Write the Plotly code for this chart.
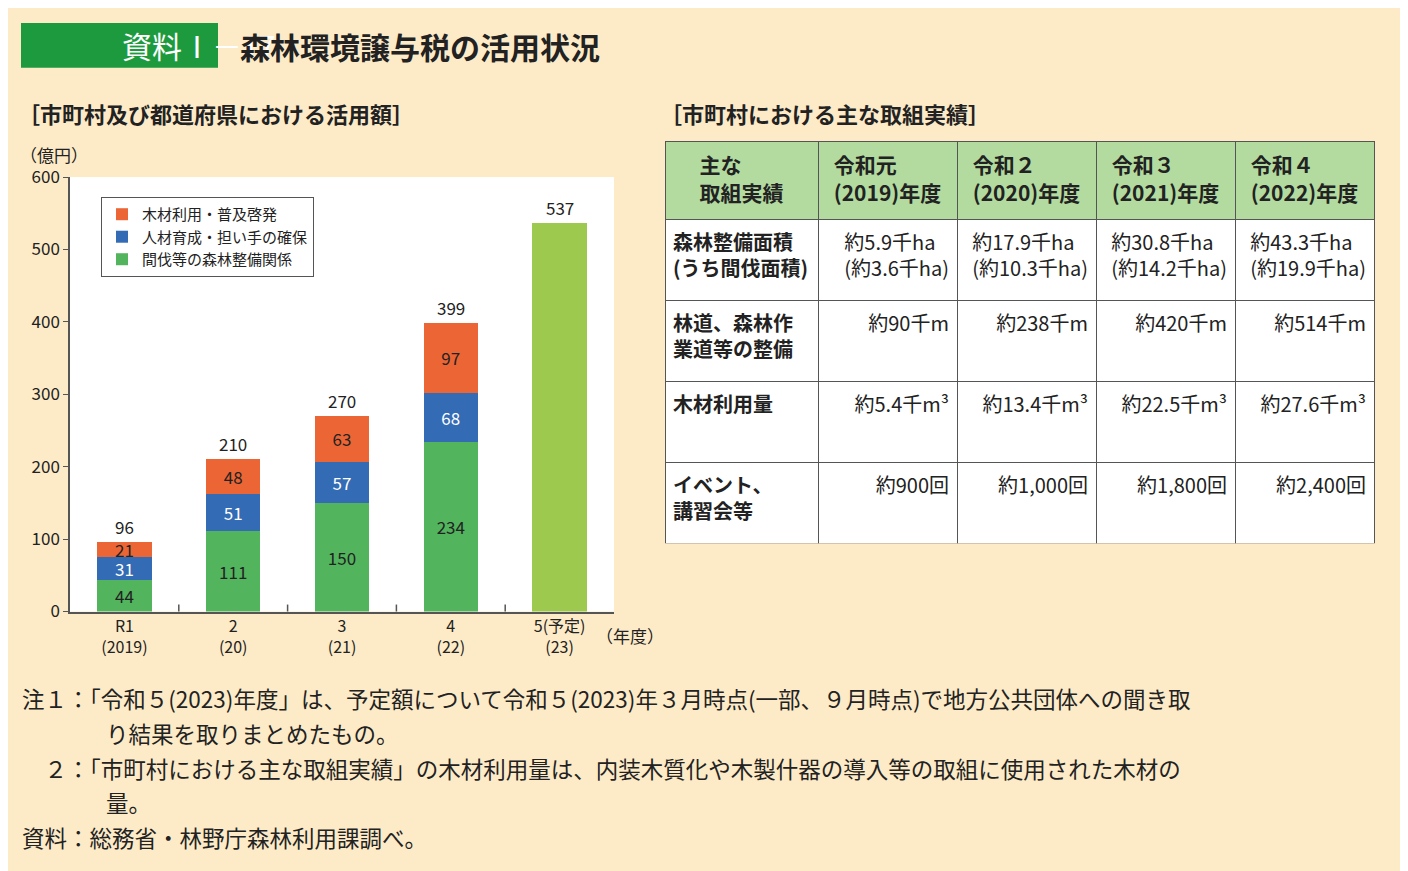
import plotly.graph_objects as go

# chart data (億円)
years = ["R1<br>(2019)", "2<br>(20)", "3<br>(21)", "4<br>(22)", "5(予定)<br>(23)"]
seibi = [44, 111, 150, 234]
jinzai = [31, 51, 57, 68]
mokuzai = [21, 48, 63, 97]
totals = [96, 210, 270, 399, 537]
plan_2023 = 537

# table data
tbl_header = ["主な<br>取組実績", "令和元<br>(2019)年度", "令和２<br>(2020)年度", "令和３<br>(2021)年度", "令和４<br>(2022)年度"]
tbl_rows = ["森林整備面積<br>(うち間伐面積)", "林道、森林作<br>業道等の整備", "<br>木材利用量", "イベント、<br>講習会等"]
tbl_2019 = ["約5.9千ha<br>(約3.6千ha)", "<br>約90千m", "<br>約5.4千m³", "<br>約900回"]
tbl_2020 = ["約17.9千ha<br>(約10.3千ha)", "<br>約238千m", "<br>約13.4千m³", "<br>約1,000回"]
tbl_2021 = ["約30.8千ha<br>(約14.2千ha)", "<br>約420千m", "<br>約22.5千m³", "<br>約1,800回"]
tbl_2022 = ["約43.3千ha<br>(約19.9千ha)", "<br>約514千m", "<br>約27.6千m³", "<br>約2,400回"]

W, H = 1408, 871
BG = "#FDEBC8"
FONT = "Noto Sans CJK JP"
GREEN, BLUE, ORANGE, LIGHT = "#52B55E", "#336BB5", "#EC6535", "#9DC94F"


# map screen pixels to paper coords (page has an offset around the figure)
def px(x):
    return (x - 8) / W


def py(y):
    return 1 - (y - 20) / 851


fig = go.Figure()
xs = years[:4]
common = dict(textposition="inside", insidetextanchor="middle", textangle=0, constraintext="none")
fig.add_trace(go.Bar(x=xs, y=seibi, name="間伐等の森林整備関係", marker_color=GREEN, text=seibi,
                     textfont=dict(color="#222", size=17), **common))
fig.add_trace(go.Bar(x=xs, y=jinzai, name="人材育成・担い手の確保", marker_color=BLUE, text=jinzai,
                     textfont=dict(color="white", size=17), **common))
fig.add_trace(go.Bar(x=xs, y=mokuzai, name="木材利用・普及啓発", marker_color=ORANGE, text=mokuzai,
                     textfont=dict(color="#222", size=17), **common))
fig.add_trace(go.Bar(x=[years[4]], y=[plan_2023], marker_color=LIGHT, showlegend=False))

for x, t in zip(years, totals):
    fig.add_annotation(x=x, y=t, text=str(t), showarrow=False, yanchor="bottom", yshift=1,
                       font=dict(size=17, color="#222"))

fig.update_traces(marker_line_width=0, cliponaxis=False, selector=dict(type="bar"))

fig.add_trace(go.Table(
    domain=dict(x=[px(665), px(1375)], y=[py(545), py(140)]),
    columnwidth=[153, 139, 139, 139, 139],
    header=dict(values=[f"<b>{h}</b>" for h in tbl_header], fill_color="#B3DBA0",
                line=dict(color="#555", width=1), height=78, align="center",
                font=dict(family=FONT, size=21, color="#222")),
    cells=dict(values=[[f"<b>{r}</b>" for r in tbl_rows], tbl_2019, tbl_2020, tbl_2021, tbl_2022],
               fill_color="white", line=dict(color="#555", width=1), height=81,
               align=["left", "right"], font=dict(family=FONT, size=20, color="#222")),
))

fig.update_layout(
    width=W, height=H, paper_bgcolor=BG, plot_bgcolor="white",
    margin=dict(l=0, r=0, t=0, b=0), barmode="stack", bargap=0.5,
    font=dict(family=FONT, color="#222"),
    xaxis=dict(domain=[px(70), px(614)], showline=True, linecolor="#555", linewidth=1.5,
               ticks="", tickfont=dict(size=16), showgrid=False),
    yaxis=dict(domain=[py(613), py(176)], range=[0, 600], dtick=100, showline=True,
               linecolor="#555", linewidth=1.5, ticks="outside", ticklen=5, tickcolor="#555",
               showgrid=False, tickfont=dict(size=17), zeroline=False),
    legend=dict(x=px(101), y=py(196), xanchor="left", yanchor="top", traceorder="reversed",
                bgcolor="white", bordercolor="#555", borderwidth=1,
                font=dict(size=15), itemwidth=30, tracegroupgap=0),
    showlegend=True,
)

# category separator ticks on the x axis
for i in range(1, 5):
    fig.add_shape(type="line", xref="x", yref="paper", x0=i - 0.5, x1=i - 0.5,
                  y0=py(613), y1=py(606), line=dict(color="#555", width=1.5))

# title
fig.add_shape(type="rect", xref="paper", yref="paper", x0=px(21), x1=px(218), y0=py(66), y1=py(21),
              fillcolor="#1E9A3E", line_width=0)
fig.add_annotation(x=px(120), y=py(43), xref="paper", yref="paper", text="資料Ⅰ－17", showarrow=False,
                   yanchor="middle", font=dict(size=30, color="white"))
fig.add_annotation(x=px(238), y=py(44), xref="paper", yref="paper", xanchor="left", yanchor="middle",
                   showarrow=False, text="<b>森林環境譲与税の活用状況</b>", font=dict(size=30, color="#222"))

texts = [
    (16, 112, "<b>［市町村及び都道府県における活用額］</b>", 22),
    (658, 112, "<b>［市町村における主な取組実績］</b>", 22),
    (18, 153, "（億円）", 17),
    (594, 637, "（年度）", 17),
    (20, 700, "注１：「令和５(2023)年度」は、予定額について令和５(2023)年３月時点(一部、９月時点)で地方公共団体への聞き取", 22.5),
    (104, 735, "り結果を取りまとめたもの。", 22.5),
    (20, 770, "　２：「市町村における主な取組実績」の木材利用量は、内装木質化や木製什器の導入等の取組に使用された木材の", 22.5),
    (104, 805, "量。", 22.5),
    (20, 840, "資料：総務省・林野庁森林利用課調べ。", 22.5),
]
for x, y, t, s in texts:
    fig.add_annotation(x=px(x), y=py(y), xref="paper", yref="paper", xanchor="left", yanchor="middle",
                       showarrow=False, text=t, font=dict(size=s, color="#222"))

fig.write_html("out.html")
